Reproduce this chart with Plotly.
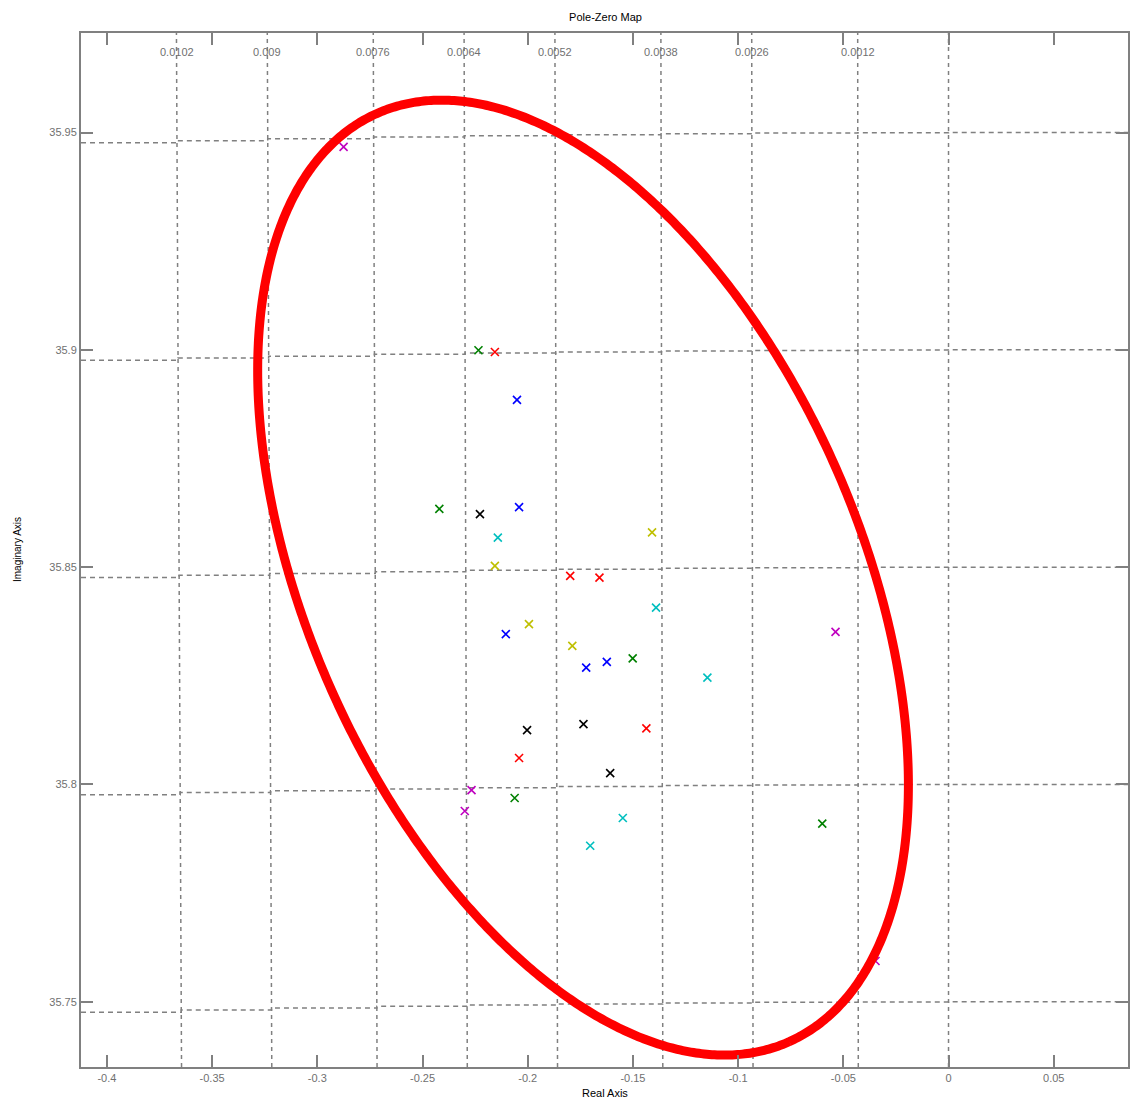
import numpy as np
import plotly.graph_objects as go

# ---------------- data ----------------
magenta_re = [-0.2875, -0.0537, -0.2267, -0.2299, -0.0347]
magenta_im = [35.9467, 35.8351, 35.7987, 35.7939, 35.7594]
green_re = [-0.2234, -0.2420, -0.1501, -0.2062, -0.0600]
green_im = [35.8999, 35.8634, 35.8290, 35.7969, 35.7910]
red_re = [-0.2156, -0.1798, -0.1659, -0.1436, -0.2041]
red_im = [35.8995, 35.8480, 35.8476, 35.8129, 35.8061]
blue_re = [-0.2051, -0.2041, -0.2104, -0.1722, -0.1624]
blue_im = [35.8885, 35.8638, 35.8346, 35.8269, 35.8282]
black_re = [-0.2227, -0.2003, -0.1735, -0.1608]
black_im = [35.8622, 35.8125, 35.8139, 35.8026]
cyan_re = [-0.2142, -0.1390, -0.1146, -0.1548, -0.1703]
cyan_im = [35.8568, 35.8407, 35.8246, 35.7923, 35.7859]
yellow_re = [-0.2156, -0.1409, -0.1994, -0.1788]
yellow_im = [35.8503, 35.8580, 35.8369, 35.8319]

damping_values = [0.0102, 0.009, 0.0076, 0.0064, 0.0052, 0.0038, 0.0026, 0.0012, 0.0]
damping_labels = ["0.0102", "0.009", "0.0076", "0.0064", "0.0052", "0.0038", "0.0026", "0.0012", ""]
wn_values = [35.75, 35.8, 35.85, 35.9, 35.95]

x_tick_vals = [-0.4, -0.35, -0.3, -0.25, -0.2, -0.15, -0.1, -0.05, 0.0, 0.05]
x_tick_text = ["-0.4", "-0.35", "-0.3", "-0.25", "-0.2", "-0.15", "-0.1", "-0.05", "0", "0.05"]
y_tick_vals = [35.75, 35.8, 35.85, 35.9, 35.95]
y_tick_text = ["35.75", "35.8", "35.85", "35.9", "35.95"]

X_RANGE = [-0.4123, 0.0853]
Y_RANGE = [35.735, 35.9729]

# highlight ellipse (annotation): centre in data units, semi-axes in screen pixels
ELL_CX, ELL_CY = -0.1737, 35.8476
ELL_A_PX, ELL_B_PX, ELL_ANGLE_DEG = 508, 276, -66.0

W, H = 1130, 1100
M_L, M_R, M_T, M_B = 81, 0, 33, 33
PX_PER_X = (W - M_L - M_R) / (X_RANGE[1] - X_RANGE[0])
PX_PER_Y = (H - M_T - M_B) / (Y_RANGE[1] - Y_RANGE[0])

GRID_COL = "#808080"
AX_COL = "#808080"
TXT_COL = "#707070"
FONT = "Liberation Sans, Arial, sans-serif"

fig = go.Figure()

# damping-ratio lines (sigma = -zeta * omega / sqrt(1 - zeta^2))
gx, gy = [], []
for z in damping_values:
    k = z / np.sqrt(1 - z * z)
    gx += [-k * Y_RANGE[0], -k * Y_RANGE[1], None]
    gy += [Y_RANGE[0], Y_RANGE[1], None]
fig.add_trace(go.Scatter(x=gx, y=gy, mode="lines", hoverinfo="skip", showlegend=False,
                         line=dict(color=GRID_COL, width=1.5, dash="4px,4px")))

# natural-frequency arcs (drawn stepwise like the original)
for wn in wn_values:
    xs = [X_RANGE[0]] + [-z / np.sqrt(1 - z * z) * wn for z in damping_values] + [X_RANGE[1]]
    ys = [np.sqrt(max(wn * wn - x * x, 0)) if x < 0 else wn for x in xs]
    fig.add_trace(go.Scatter(x=xs, y=ys, mode="lines", line_shape="hv", hoverinfo="skip",
                             showlegend=False,
                             line=dict(color=GRID_COL, width=1.5, dash="5px,4px")))

series = [
    (blue_re, blue_im, "#0000ff"),
    (green_re, green_im, "#008000"),
    (red_re, red_im, "#ff0000"),
    (cyan_re, cyan_im, "#00bfbf"),
    (magenta_re, magenta_im, "#bf00bf"),
    (yellow_re, yellow_im, "#bfbf00"),
    (black_re, black_im, "#000000"),
]
for xr, yi, col in series:
    fig.add_trace(go.Scatter(x=xr, y=yi, mode="markers", showlegend=False,
                             marker=dict(symbol="x-thin", size=8, color=col,
                                         line=dict(width=1.6, color=col))))

# red ellipse
t = np.linspace(0, 2 * np.pi, 721)
ph = np.deg2rad(ELL_ANGLE_DEG)
ex_px = ELL_A_PX * np.cos(ph) * np.cos(t) - ELL_B_PX * np.sin(ph) * np.sin(t)
ey_px = ELL_A_PX * np.sin(ph) * np.cos(t) + ELL_B_PX * np.cos(ph) * np.sin(t)
fig.add_trace(go.Scatter(x=ELL_CX + ex_px / PX_PER_X, y=ELL_CY + ey_px / PX_PER_Y,
                         mode="lines", hoverinfo="skip", showlegend=False,
                         line=dict(color="#ff0000", width=9, simplify=False)))

# damping labels along the top
y_lab = Y_RANGE[1] - 19 / PX_PER_Y
for z, lab in zip(damping_values, damping_labels):
    if lab:
        fig.add_annotation(x=-z * y_lab, y=y_lab, text=lab, showarrow=False,
                           font=dict(family=FONT, size=11, color=TXT_COL),
                           xanchor="center", yanchor="middle")

fig.add_annotation(text="Real Axis", xref="paper", yref="paper", x=0.5, y=0,
                   yshift=-26, showarrow=False, xanchor="center", yanchor="middle",
                   font=dict(family=FONT, size=11, color="#000000"))
fig.add_annotation(text="Imaginary Axis", xref="paper", yref="paper", x=0, y=0.5,
                   xshift=-64, textangle=-90, showarrow=False, xanchor="center",
                   yanchor="middle", font=dict(family=FONT, size=10, color="#000000"))

fig.update_layout(
    width=W, height=H,
    margin=dict(l=M_L, r=M_R, t=M_T, b=M_B),
    paper_bgcolor="white", plot_bgcolor="white",
    title=dict(text="Pole-Zero Map", x=(M_L + (W - M_L) / 2) / W, xanchor="center",
               y=1 - 17 / H, yanchor="middle", yref="container",
               font=dict(family=FONT, size=11, color="#000000")),
    xaxis=dict(range=X_RANGE, tickvals=x_tick_vals, ticktext=x_tick_text,
               showgrid=False, zeroline=False, showline=True, mirror="ticks",
               linecolor=AX_COL, linewidth=2, ticks="inside", ticklen=12,
               tickcolor=AX_COL, tickwidth=2,
               tickfont=dict(family=FONT, size=11, color=TXT_COL)),
    yaxis=dict(range=Y_RANGE, tickvals=y_tick_vals, ticktext=y_tick_text,
               showgrid=False, zeroline=False, showline=True, mirror="ticks",
               linecolor=AX_COL, linewidth=2, ticks="inside", ticklen=12,
               tickcolor=AX_COL, tickwidth=2,
               tickfont=dict(family=FONT, size=11, color=TXT_COL)),
)

fig.write_html("out.html")
